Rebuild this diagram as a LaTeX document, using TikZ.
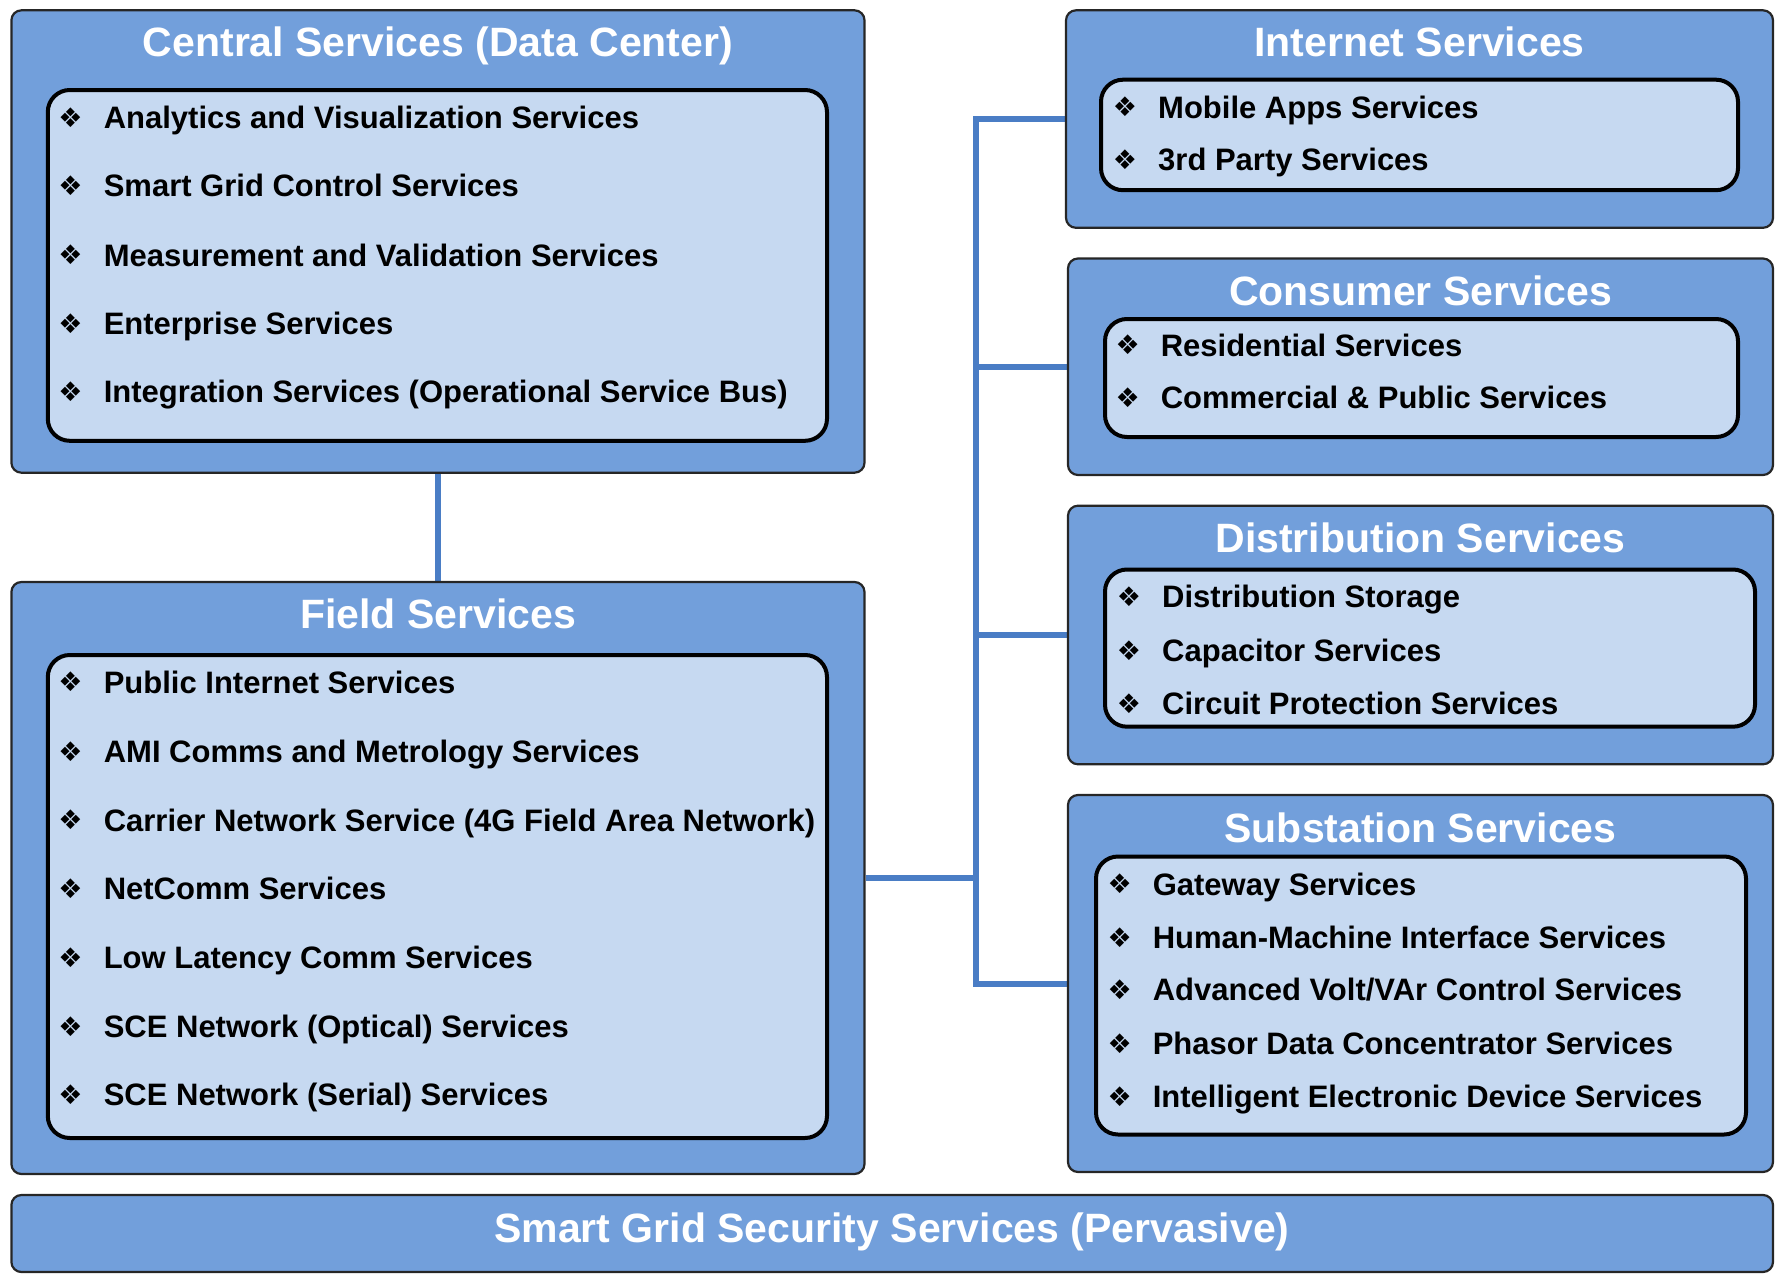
\documentclass[tikz,border=0pt]{standalone}
\usepackage{fontspec}
\setmainfont{Liberation Sans}
\newfontfamily\symfont{DejaVu Sans}
\usetikzlibrary{backgrounds}
\definecolor{outerblue}{HTML}{729FDB}
\definecolor{innerblue}{HTML}{C6D9F1}
\definecolor{connblue}{HTML}{4A7DC5}
\tikzset{
  outerbox/.style={draw=black!85, line width=2.2pt, fill=outerblue, rounded corners=10pt, inner sep=0pt},
  innerbox/.style={draw=black, line width=4pt, fill=innerblue, rounded corners=22pt, inner sep=0pt},
  titletext/.style={text=white, font=\fontsize{41}{48}\selectfont\bfseries, anchor=base, inner sep=0pt},
  itemtext/.style={font=\fontsize{31}{37}\selectfont\bfseries, anchor=base west, inner sep=0pt},
  bullettext/.style={font=\symfont\fontsize{27}{30}\selectfont, anchor=center, inner sep=0pt},
  conn/.style={draw=connblue, line width=6pt},
}
\newcommand\mkbox[6]{\node[#2, minimum width={#5pt-#3pt}, minimum height={#6pt-#4pt}] (#1) at ({(#3+#5)/2},{(#4+#6)/2}) {};}
\newcommand\itm[4]{\node[bullettext] (#1b) at (#2,#3) {❖}; \node[itemtext] (#1) at ({#2+33},{#3+11}) {#4};}
\begin{document}
\begin{tikzpicture}[x=1pt,y=-1pt]
\useasboundingbox (0,0) rectangle (1786,1282);
% ---------- Central
\mkbox{central}{outerbox}{11.4}{10.3}{864.5}{472.7}
\node[titletext] (centralT) at (438,56.5) {Central Services (Data Center)};
\mkbox{centralI}{innerbox}{47.8}{90}{827}{440.8}
\itm{c1}{70.6}{117.3}{Analytics and Visualization Services}
\itm{c2}{70.6}{185.7}{Smart Grid Control Services}
\itm{c3}{70.6}{255.1}{Measurement and Validation Services}
\itm{c4}{70.6}{323.5}{Enterprise Services}
\itm{c5}{70.6}{391.8}{Integration Services (Operational Service Bus)}
% ---------- Field
\mkbox{field}{outerbox}{11.4}{582}{864.5}{1174}
\node[titletext] (fieldT) at (438,628.5) {Field Services};
\mkbox{fieldI}{innerbox}{47.8}{655}{827}{1138}
\itm{f1}{70.6}{682}{Public Internet Services}
\itm{f2}{70.6}{751.7}{AMI Comms and Metrology Services}
\itm{f3}{70.6}{820}{Carrier Network Service (4G Field Area Network)}
\itm{f4}{70.6}{888.4}{NetComm Services}
\itm{f5}{70.6}{957.9}{Low Latency Comm Services}
\itm{f6}{70.6}{1026.2}{SCE Network (Optical) Services}
\itm{f7}{70.6}{1094.6}{SCE Network (Serial) Services}
% ---------- Internet
\mkbox{internet}{outerbox}{1066}{10.3}{1773}{227.8}
\node[titletext] (internetT) at (1419.5,56.5) {Internet Services};
\mkbox{internetI}{innerbox}{1101}{79.7}{1738}{190.2}
\itm{i1}{1125}{107}{Mobile Apps Services}
\itm{i2}{1125}{159.5}{3rd Party Services}
% ---------- Consumer
\mkbox{consumer}{outerbox}{1068}{258.5}{1773}{475}
\node[titletext] (consumerT) at (1420.5,305) {Consumer Services};
\mkbox{consumerI}{innerbox}{1105}{319}{1738}{437}
\itm{n1}{1127.6}{345}{Residential Services}
\itm{n2}{1127.6}{397.5}{Commercial \& Public Services}
% ---------- Distribution
\mkbox{distribution}{outerbox}{1068}{505.7}{1773}{764.3}
\node[titletext] (distributionT) at (1420.5,552) {Distribution Services};
\mkbox{distributionI}{innerbox}{1105}{569.5}{1755}{726.7}
\itm{d1}{1129}{596.8}{Distribution Storage}
\itm{d2}{1129}{650.4}{Capacitor Services}
\itm{d3}{1129}{703.9}{Circuit Protection Services}
% ---------- Substation
\mkbox{substation}{outerbox}{1068}{795}{1773}{1172}
\node[titletext] (substationT) at (1420.5,842.5) {Substation Services};
\mkbox{substationI}{innerbox}{1096}{856.5}{1746}{1134.5}
\itm{s1}{1119.6}{884}{Gateway Services}
\itm{s2}{1119.6}{937.4}{Human-Machine Interface Services}
\itm{s3}{1119.6}{989.8}{Advanced Volt/VAr Control Services}
\itm{s4}{1119.6}{1043.3}{Phasor Data Concentrator Services}
\itm{s5}{1119.6}{1096.9}{Intelligent Electronic Device Services}
% ---------- Security
\mkbox{security}{outerbox}{11.4}{1195}{1773}{1272}
\node[titletext] (securityT) at (892,1242.5) {Smart Grid Security Services (Pervasive)};
% ---------- Connectors
\coordinate (bus) at (976,0);
\begin{scope}[on background layer]
\draw[conn] (central.south) -- (field.north);
\draw[conn] (internet.west) -- (internet.west -| bus) -- (substation.west -| bus) -- (substation.west);
\draw[conn] (consumer.west) -- (consumer.west -| bus);
\draw[conn] (distribution.west) -- (distribution.west -| bus);
\draw[conn] (field.east) -- (field.east -| bus);
\end{scope}
\end{tikzpicture}
\end{document}
